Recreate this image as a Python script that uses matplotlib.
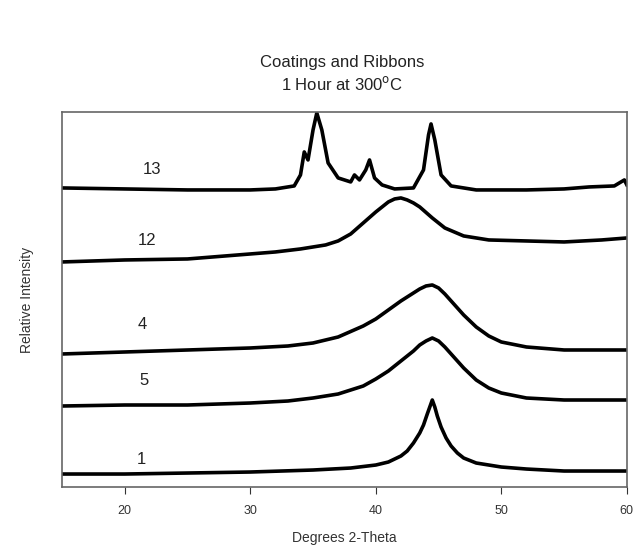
import matplotlib.pyplot as plt

plt.rcParams['font.family'] = ['Liberation Sans', 'DejaVu Sans']

# Degrees 2-theta positions and relative intensities (arbitrary offset units)
x1 = [15, 20, 25, 30, 35, 38, 40, 41, 42, 42.5, 43, 43.5, 43.8, 44.1, 44.3, 44.5, 44.7, 44.9, 45.2, 45.6, 46, 46.5,
      47, 48, 50, 52, 55, 60]
y1 = [13, 13, 14, 15, 17, 19, 22, 25, 31, 36, 44, 54, 62, 73, 80, 87, 80, 71, 60, 49, 41, 34,
      29, 24, 20, 18, 16, 16]

x5 = [15, 20, 25, 30, 33, 35, 37, 39, 40, 41, 42, 43, 43.5, 44, 44.5, 45, 45.5, 46, 47, 48, 49, 50, 52, 55, 60]
y5 = [81, 82, 82, 84, 86, 89, 93, 101, 108, 116, 126, 136, 142, 146, 149, 146, 140, 133, 119, 107, 99, 94, 89, 87, 87]

x4 = [15, 20, 25, 30, 33, 35, 37, 39, 40, 41, 42, 43, 43.5, 44, 44.5, 45, 45.5, 46, 47, 48, 49, 50, 52, 55, 60]
y4 = [133, 135, 137, 139, 141, 144, 150, 161, 168, 177, 186, 194, 198, 201, 202, 199, 193, 186, 172, 160, 151, 145,
      140, 137, 137]

x12 = [15, 20, 25, 28, 30, 32, 34, 36, 37, 38, 39, 40, 40.5, 41, 41.5, 42, 42.5, 43, 43.5, 44.5, 45.5, 47, 49, 52,
       55, 58, 60]
y12 = [225, 227, 228, 231, 233, 235, 238, 242, 246, 253, 264, 275, 280, 285, 288, 289, 287, 284, 280, 269, 259, 251,
       247, 246, 245, 247, 249]

x13 = [15, 20, 25, 30, 32, 33.5, 34, 34.3, 34.6, 35, 35.3, 35.7, 36.2, 37, 38, 38.3, 38.7, 39.2, 39.5,
       39.9, 40.5, 41.5, 43, 43.8, 44.2, 44.4, 44.7, 45.2, 46, 48, 52, 55, 57, 59, 59.8, 60]
y13 = [299, 298, 297, 297, 298, 301, 312, 335, 327, 357, 374, 357, 324, 309, 305, 312, 307, 317, 327,
       309, 302, 298, 299, 317, 352, 363, 347, 312, 301, 297, 297, 298, 300, 301, 307, 302]

traces = [(x1, y1), (x5, y5), (x4, y4), (x12, y12), (x13, y13)]
labels = ['1', '5', '4', '12', '13']
label_x = [21.3, 21.5, 21.4, 21.8, 22.2]
label_y = [28, 106, 162, 246, 317]

fig = plt.figure(figsize=(6.39, 5.5), dpi=100)
ax = fig.add_axes([0.097, 0.1145, 0.884, 0.682])

for (xs, ys), lab, lx, ly in zip(traces, labels, label_x, label_y):
    ax.plot(xs, ys, color='black', lw=2.6, solid_joinstyle='round')
    ax.text(lx, ly, lab, fontsize=12, color='#222222', ha='center', va='center')

ax.set_xlim(15, 60)
ax.set_ylim(0, 375)
ax.set_xticks([20, 30, 40, 50, 60])
ax.set_yticks([])
ax.tick_params(axis='x', direction='out', length=5, pad=8, labelsize=9, colors='#333333')
for s in ax.spines.values():
    s.set_color('#666666')
    s.set_linewidth(1.2)

ax.set_xlabel('Degrees 2-Theta', fontsize=10, color='#333333', labelpad=10)
ax.set_ylabel('Relative Intensity', fontsize=10, color='#333333', labelpad=20)
fig.text(0.535, 0.865, 'Coatings and Ribbons\n1 Hour at 300$^\\mathrm{o}$C', ha='center', va='center',
         fontsize=12, color='#222222', linespacing=1.3)

fig.savefig('out.png', dpi=100)
